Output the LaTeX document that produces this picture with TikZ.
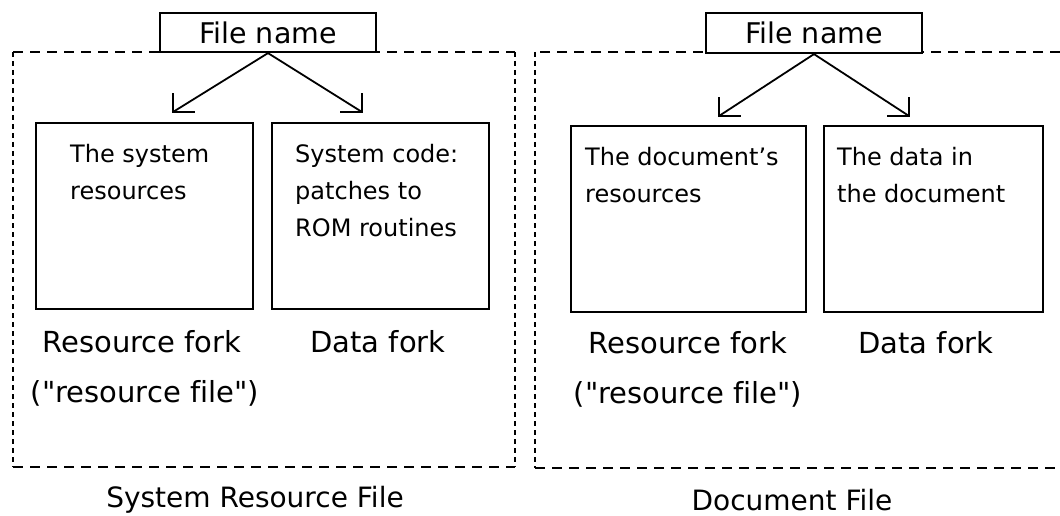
\documentclass[tikz,border=0pt]{standalone}
\usepackage{fontspec}
\setmainfont{DejaVu Sans}[Ligatures={TeXOff,CommonOff}]
\begin{document}
\begin{tikzpicture}[x=1pt,y=-1pt,
  forkbox/.style={draw, line width=2.2pt, inner sep=0pt, minimum height=186pt},
  namebox/.style={draw, fill=white, line width=2.2pt, inner sep=0pt, minimum width=216pt, minimum height=39pt, font=\fontsize{28.5}{30}\selectfont},
  intext/.style={anchor=north west, inner sep=0pt, align=left, font=\fontsize{24}{37}\selectfont},
  lbl/.style={anchor=base, inner sep=0pt, font=\fontsize{29}{32}\selectfont},
  captxt/.style={anchor=base, inner sep=0pt, font=\fontsize{28}{32}\selectfont},
  hdash/.style={line width=2.2pt, dash pattern=on 10pt off 7pt},
  vdash/.style={line width=2.2pt, dash pattern=on 5pt off 4pt},
  conn/.style={line width=1.8pt},
  barb/.style={line width=1.8pt, line cap=rect}
]
\useasboundingbox (0,0) rectangle (1060,516);

% ---------------- left: System Resource File ----------------
\draw[hdash] (13,52) -- (515,52);
\draw[hdash] (13,467) -- (515,467);
\draw[vdash] (13,52) -- (13,467);
\draw[vdash] (515,52) -- (515,467);

\node[namebox] (fn1) at (268,32.5) {File name};

\node[forkbox, minimum width=217pt] (ra) at (144.5,216) {};
\node[forkbox, minimum width=217pt] (da) at (380.5,216) {};

\node[intext] (ta) at (70,144) {The system\\resources};
\node[intext] (tb) at (295,144) {System code:\\patches to\\ROM routines};

\coordinate (a1) at (173,112);
\coordinate (a2) at (362,112);
\draw[conn] (fn1.south) -- (a1);
\draw[conn] (fn1.south) -- (a2);
\draw[barb] ([yshift=18pt]a1) -- (a1) -- ([xshift=21pt]a1);
\draw[barb] ([yshift=18pt]a2) -- (a2) -- ([xshift=-21pt]a2);

\node[lbl] (rfa) at (142,352) {Resource fork};
\node[lbl] (rfb) at (145,402) {("resource file")};
\node[lbl] (dfa) at (378,352) {Data fork};
\node[captxt] (capa) at (255,507) {System Resource File};

% ---------------- right: Document File ----------------
\draw[hdash] (1060,52) -- (535,52) ;
\draw[hdash] (535,468) -- (1060,468);
\draw[vdash] (535,52) -- (535,468);

\node[namebox, minimum height=40pt] (fn2) at (814,33) {File name};

\node[forkbox, minimum width=235pt] (rc) at (688.5,219) {};
\node[forkbox, minimum width=219pt] (dc) at (933.5,219) {};

\node[intext] (tc) at (585,147) {The document’s\\resources};
\node[intext] (td) at (837,147) {The data in\\the document};

\coordinate (b1) at (719,116);
\coordinate (b2) at (909,116);
\draw[conn] (fn2.south) -- (b1);
\draw[conn] (fn2.south) -- (b2);
\draw[barb] ([yshift=18pt]b1) -- (b1) -- ([xshift=21pt]b1);
\draw[barb] ([yshift=18pt]b2) -- (b2) -- ([xshift=-21pt]b2);

\node[lbl] (rfc) at (688,353) {Resource fork};
\node[lbl] (rfd) at (688,403) {("resource file")};
\node[lbl] (dfc) at (926,353) {Data fork};
\node[captxt] (capb) at (792,510) {Document File};
\end{tikzpicture}
\end{document}
